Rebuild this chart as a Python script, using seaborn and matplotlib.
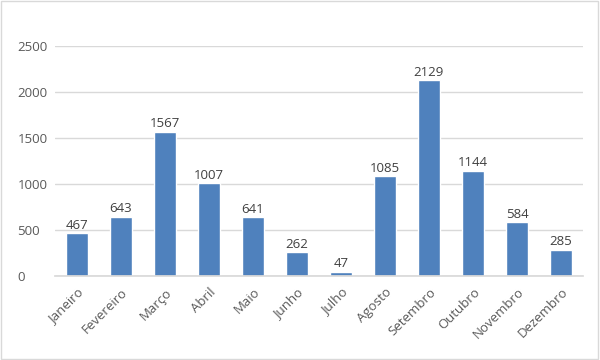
import matplotlib
matplotlib.use("Agg")
import matplotlib.pyplot as plt
import seaborn as sns
import pandas as pd
from matplotlib.patches import Rectangle

months = ["Janeiro", "Fevereiro", "Março", "Abril", "Maio", "Junho", "Julho",
          "Agosto", "Setembro", "Outubro", "Novembro", "Dezembro"]
values = [467, 643, 1567, 1007, 641, 262, 47, 1085, 2129, 1144, 584, 285]
yticks = [0, 500, 1000, 1500, 2000, 2500]

sns.set_theme(style="white")
plt.rcParams['font.family'] = ['Open Sans', 'DejaVu Sans']

df = pd.DataFrame({"mes": months, "valor": values})

fig = plt.figure(figsize=(6, 3.6), dpi=100)
ax = fig.add_axes([55/600, 1-276/360, (583-55)/600, (276-46)/360])

sns.barplot(data=df, x="mes", y="valor", color="#4f81bd", saturation=1,
            width=0.5, ax=ax, order=months)

ax.set_ylim(0, 2500)
ax.set_xlim(-0.5, len(months)-0.5)
ax.set_yticks(yticks)
ax.set_yticklabels([str(t) for t in yticks], fontsize=9.5, color="#595959",
                   ha="left")
ax.set_xlabel("")
ax.set_ylabel("")
ax.grid(axis="y", color="#d9d9d9", linewidth=1)
ax.set_axisbelow(True)
for s in ["top", "right", "left"]:
    ax.spines[s].set_visible(False)
ax.spines["bottom"].set_color("#d9d9d9")
ax.tick_params(axis="x", length=0, pad=7)
ax.tick_params(axis="y", length=0, pad=27)
ax.set_xticks(range(len(months)))
ax.set_xticklabels(months, rotation=45, ha="right", rotation_mode="anchor",
                   fontsize=9.5, color="#595959")

for c in ax.containers:
    ax.bar_label(c, labels=[str(v) for v in values], fontsize=9.5,
                 color="#404040", padding=1)

fig.patches.append(Rectangle((0.002, 0.003), 0.995, 0.994, transform=fig.transFigure,
                             fill=False, edgecolor="#d9d9d9", linewidth=1))

fig.savefig("out.png", dpi=100)
